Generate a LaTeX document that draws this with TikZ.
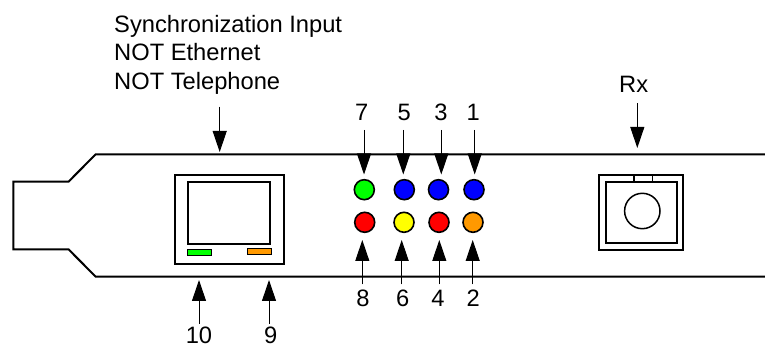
\documentclass[tikz,border=0pt]{standalone}
\usepackage{fontspec}
\setmainfont{Liberation Sans}
\usetikzlibrary{arrows.meta}
\tikzset{
 x=1pt,y=-1pt,
 thick line/.style={line width=2pt,line join=miter,black},
 led/.style={circle,draw=black,line width=1.6pt,minimum size=20pt,inner sep=0pt},
 lab/.style={font=\fontsize{23.7pt}{23.7pt}\selectfont,inner sep=0pt},
 pin/.style={line width=1pt,black,-{Triangle[length=21pt,width=14pt]}},
 indicator/.style={draw=black,line width=1pt},
}
\definecolor{ledgreen}{RGB}{0,255,0}
\definecolor{ledblue}{RGB}{0,0,255}
\definecolor{ledred}{RGB}{255,0,0}
\definecolor{ledyellow}{RGB}{255,255,0}
\definecolor{ledorange}{RGB}{255,153,0}
\begin{document}
\begin{tikzpicture}
\useasboundingbox (0,0) rectangle (765,344);
% card outline
\draw[thick line] (765,154.3) -- (95.7,154.3) -- (68.5,181.7) -- (13.3,181.7) -- (13.3,249.3) -- (68.5,249.3) -- (95.7,276.7) -- (765,276.7);
% RJ connector
\node[draw,line width=2pt,minimum width=109pt,minimum height=89pt,inner sep=0pt] (rj) at (229.7,219.5) {};
\node[draw,line width=2pt,minimum width=82pt,minimum height=61.5pt,inner sep=0pt] (rjin) at (229.3,213) {};
\node[indicator,fill=ledgreen,minimum width=24.4pt,minimum height=6.4pt,inner sep=0pt] (gled) at (199.5,252.5) {};
\node[indicator,fill=ledorange,minimum width=24.4pt,minimum height=6.4pt,inner sep=0pt] (oled) at (259.5,251.5) {};
% LEDs
\node[led,fill=ledgreen] (a7) at (364.3,189.7) {};
\node[led,fill=ledblue] (a5) at (404.3,189.7) {};
\node[led,fill=ledblue] (a3) at (438.5,189.7) {};
\node[led,fill=ledblue] (a1) at (474,189.7) {};
\node[led,fill=ledred] (a8) at (364.7,222.3) {};
\node[led,fill=ledyellow] (a6) at (404,222.3) {};
\node[led,fill=ledred] (a4) at (439,222.3) {};
\node[led,fill=ledorange] (a2) at (473,222.3) {};
% Rx connector
\node[draw,line width=2pt,minimum width=83.4pt,minimum height=75pt,inner sep=0pt] (rx) at (641,212.5) {};
\node[draw,line width=2pt,minimum width=71pt,minimum height=61pt,inner sep=0pt] (rxin) at (641.2,212.5) {};
\node[draw,line width=1.4pt,minimum width=18.3pt,minimum height=7pt,inner sep=0pt] (tab) at (643.2,178.5) {};
\node[draw,circle,line width=1.5pt,minimum size=35.4pt,inner sep=0pt] (lens) at (642.3,211) {};
% labels
\node[lab,anchor=base west] (s1) at (114,32.7) {Synchronization Input};
\node[lab,anchor=base west] (s2) at (114,60.7) {NOT Ethernet};
\node[lab,anchor=base west] (s3) at (114,89.3) {NOT Telephone};
\node[lab,anchor=base] (rxl) at (633.7,92.7) {Rx};
\foreach \n/\t/\x in {l7/7/361.7,l5/5/404.3,l3/3/441,l1/1/473.3}{\node[lab,anchor=base] (\n) at (\x,121) {\t};}
\foreach \n/\t/\x in {l8/8/363,l6/6/402.7,l4/4/438,l2/2/473.3}{\node[lab,anchor=base] (\n) at (\x,306.7) {\t};}
\node[lab,anchor=base] (l10) at (199,343) {10};
\node[lab,anchor=base] (l9) at (270.7,343) {9};
% arrow tips
\coordinate (tsync) at (219.7,152);
\coordinate (trx) at (637.3,148);
\coordinate (t7) at (364,174.5);
\coordinate (t5) at (403.3,174.5);
\coordinate (t3) at (441.3,174.5);
\coordinate (t1) at (474.7,174.5);
\coordinate (t8) at (362.3,240);
\coordinate (t6) at (401.7,240);
\coordinate (t4) at (439.3,240);
\coordinate (t2) at (472.7,240);
\coordinate (t10) at (199,280);
\coordinate (t9) at (269,280);
% connectors
\draw[pin] (s3.base -| tsync) ++(0,17.4) -- (tsync);
\draw[pin] (rxl.base -| trx) ++(0,10.6) -- (trx);
\foreach \i in {7,5,3,1}{\draw[pin] (l\i.base -| t\i) ++(0,9) -- (t\i);}
\foreach \i in {8,6,4,2}{\draw[pin] (l\i.base -| t\i) ++(0,-22.4) -- (t\i);}
\draw[pin] (l10.base -| t10) ++(0,-19) -- (t10);
\draw[pin] (l9.base -| t9) ++(0,-19) -- (t9);
\end{tikzpicture}
\end{document}
